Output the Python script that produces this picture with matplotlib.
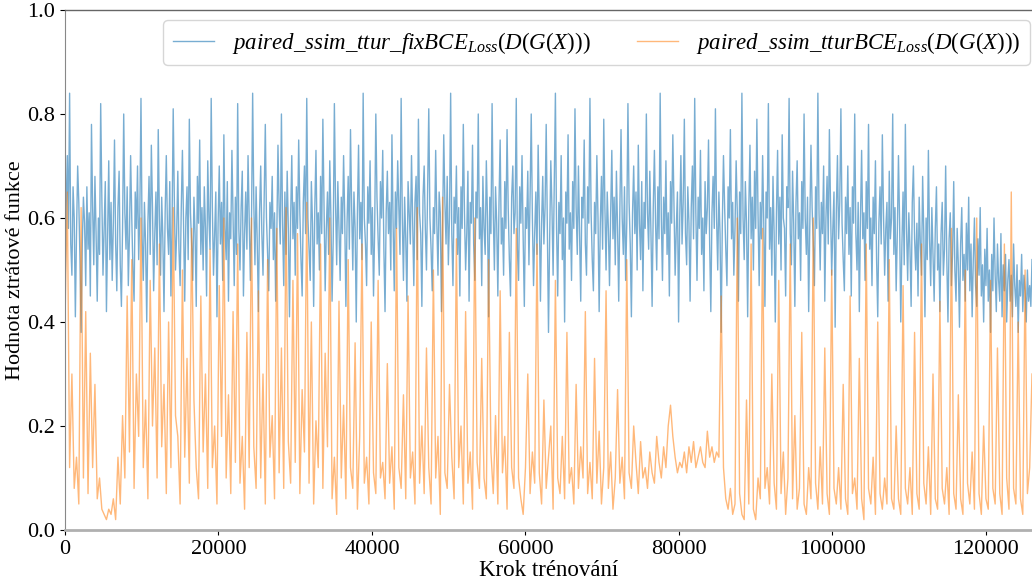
import numpy as np
import matplotlib
matplotlib.use("Agg")
import matplotlib.pyplot as plt

# -------------------- Data --------------------
fix_every = 150   # training steps between logged values, blue run
ttur_every = 300  # training steps between logged values, orange run

fix_loss = [
    0.45, 0.62, 0.72, 0.58, 0.84, 0.55, 0.49, 0.66, 0.60, 0.41, 0.57, 0.70, 0.63, 0.52, 0.38, 0.55, 0.64, 0.59, 0.47, 0.66,
    0.54, 0.61, 0.45, 0.78, 0.62, 0.51, 0.68, 0.57, 0.44, 0.60, 0.53, 0.82, 0.64, 0.49, 0.58, 0.67, 0.42, 0.56, 0.71, 0.52,
    0.63, 0.48, 0.59, 0.75, 0.55, 0.46, 0.62, 0.69, 0.51, 0.43, 0.58, 0.80, 0.61, 0.54, 0.66, 0.47, 0.57, 0.72, 0.60, 0.50,
    0.44, 0.65, 0.58, 0.70, 0.52, 0.61, 0.83, 0.56, 0.48, 0.63, 0.55, 0.40, 0.59, 0.68, 0.53, 0.74, 0.62, 0.46, 0.57, 0.65,
    0.51, 0.77, 0.60, 0.49, 0.64, 0.56, 0.42, 0.61, 0.72, 0.58, 0.53, 0.67, 0.45, 0.59, 0.81, 0.63, 0.50, 0.57, 0.69, 0.54,
    0.47, 0.62, 0.73, 0.58, 0.44, 0.60, 0.66, 0.52, 0.79, 0.61, 0.55, 0.48, 0.64, 0.57, 0.43, 0.68, 0.59, 0.75, 0.53, 0.62,
    0.50, 0.66, 0.58, 0.45, 0.71, 0.60, 0.54, 0.83, 0.62, 0.49, 0.57, 0.65, 0.41, 0.59, 0.70, 0.55, 0.63, 0.48, 0.76, 0.58,
    0.52, 0.67, 0.44, 0.61, 0.56, 0.73, 0.60, 0.47, 0.64, 0.53, 0.82, 0.58, 0.50, 0.62, 0.69, 0.45, 0.57, 0.65, 0.54, 0.72,
    0.60, 0.48, 0.59, 0.84, 0.63, 0.51, 0.66, 0.55, 0.42, 0.61, 0.70, 0.57, 0.49, 0.64, 0.78, 0.60, 0.53, 0.46, 0.63, 0.58,
    0.68, 0.52, 0.61, 0.44, 0.57, 0.74, 0.62, 0.55, 0.80, 0.59, 0.47, 0.65, 0.53, 0.69, 0.58, 0.41, 0.60, 0.72, 0.56, 0.63,
    0.49, 0.66, 0.58, 0.75, 0.61, 0.52, 0.45, 0.63, 0.70, 0.57, 0.83, 0.60, 0.54, 0.48, 0.67, 0.59, 0.43, 0.62, 0.73, 0.55,
    0.61, 0.50, 0.68, 0.57, 0.79, 0.62, 0.46, 0.58, 0.65, 0.53, 0.71, 0.60, 0.44, 0.56, 0.82, 0.63, 0.51, 0.67, 0.58, 0.48,
    0.64, 0.57, 0.72, 0.60, 0.43, 0.59, 0.68, 0.54, 0.77, 0.62, 0.50, 0.65, 0.58, 0.40, 0.61, 0.74, 0.56, 0.63, 0.52, 0.84,
    0.60, 0.55, 0.47, 0.66, 0.59, 0.71, 0.53, 0.62, 0.45, 0.58, 0.80, 0.64, 0.56, 0.49, 0.67, 0.60, 0.73, 0.54, 0.42, 0.61,
    0.69, 0.57, 0.63, 0.50, 0.76, 0.59, 0.46, 0.65, 0.58, 0.71, 0.62, 0.53, 0.83, 0.60, 0.48, 0.64, 0.56, 0.44, 0.67, 0.61,
    0.55, 0.72, 0.59, 0.47, 0.63, 0.68, 0.52, 0.79, 0.61, 0.57, 0.43, 0.64, 0.70, 0.58, 0.50, 0.66, 0.81, 0.60, 0.54, 0.46,
    0.62, 0.57, 0.73, 0.59, 0.49, 0.65, 0.61, 0.42, 0.58, 0.76, 0.63, 0.55, 0.68, 0.51, 0.60, 0.84, 0.57, 0.47, 0.64, 0.59,
    0.70, 0.53, 0.62, 0.45, 0.66, 0.58, 0.78, 0.61, 0.50, 0.57, 0.69, 0.44, 0.63, 0.59, 0.74, 0.55, 0.48, 0.65, 0.60, 0.80,
    0.56, 0.62, 0.47, 0.68, 0.58, 0.53, 0.71, 0.60, 0.41, 0.64, 0.57, 0.82, 0.61, 0.50, 0.66, 0.59, 0.45, 0.63, 0.75, 0.55,
    0.60, 0.49, 0.67, 0.58, 0.77, 0.62, 0.52, 0.45, 0.64, 0.70, 0.57, 0.61, 0.83, 0.54, 0.48, 0.66, 0.59, 0.72, 0.56, 0.43,
    0.62, 0.58, 0.69, 0.51, 0.64, 0.80, 0.60, 0.47, 0.57, 0.65, 0.53, 0.74, 0.61, 0.44, 0.59, 0.68, 0.55, 0.62, 0.78, 0.57,
    0.38, 0.56, 0.71, 0.62, 0.49, 0.66, 0.84, 0.58, 0.45, 0.63, 0.57, 0.72, 0.52, 0.60, 0.40, 0.65, 0.59, 0.76, 0.54, 0.61,
    0.48, 0.67, 0.58, 0.81, 0.62, 0.53, 0.70, 0.57, 0.44, 0.64, 0.60, 0.75, 0.55, 0.49, 0.66, 0.59, 0.83, 0.61, 0.52, 0.46,
    0.63, 0.57, 0.72, 0.60, 0.42, 0.59, 0.68, 0.54, 0.79, 0.62, 0.50, 0.65, 0.58, 0.47, 0.61, 0.73, 0.56, 0.64, 0.51, 0.69,
    0.58, 0.44, 0.62, 0.77, 0.60, 0.53, 0.66, 0.48, 0.59, 0.82, 0.63, 0.55, 0.41, 0.61, 0.70, 0.57, 0.65, 0.50, 0.74, 0.59,
    0.52, 0.67, 0.46, 0.63, 0.58, 0.80, 0.61, 0.54, 0.69, 0.57, 0.43, 0.62, 0.73, 0.59, 0.50, 0.66, 0.56, 0.84, 0.60, 0.48,
    0.64, 0.57, 0.71, 0.53, 0.61, 0.45, 0.67, 0.59, 0.76, 0.62, 0.49, 0.58, 0.65, 0.40, 0.60, 0.72, 0.55, 0.63, 0.79, 0.57,
    0.51, 0.66, 0.59, 0.44, 0.62, 0.70, 0.56, 0.83, 0.61, 0.48, 0.64, 0.58, 0.73, 0.53, 0.60, 0.46, 0.67, 0.57, 0.62, 0.75,
    0.55, 0.42, 0.61, 0.68, 0.58, 0.81, 0.60, 0.50, 0.65, 0.57, 0.38, 0.59, 0.72, 0.62, 0.54, 0.47, 0.66, 0.60, 0.77, 0.56,
    0.63, 0.49, 0.58, 0.71, 0.61, 0.44, 0.65, 0.57, 0.84, 0.60, 0.52, 0.67, 0.59, 0.41, 0.62, 0.74, 0.56, 0.64, 0.50, 0.69,
    0.58, 0.79, 0.61, 0.47, 0.63, 0.56, 0.72, 0.59, 0.43, 0.65, 0.60, 0.82, 0.54, 0.62, 0.49, 0.68, 0.57, 0.40, 0.61, 0.73,
    0.55, 0.64, 0.50, 0.76, 0.60, 0.58, 0.45, 0.66, 0.62, 0.83, 0.57, 0.51, 0.69, 0.59, 0.43, 0.63, 0.71, 0.56, 0.61, 0.48,
    0.67, 0.58, 0.80, 0.60, 0.53, 0.64, 0.42, 0.59, 0.74, 0.62, 0.55, 0.47, 0.66, 0.58, 0.84, 0.61, 0.50, 0.63, 0.57, 0.70,
    0.44, 0.60, 0.68, 0.55, 0.77, 0.62, 0.49, 0.58, 0.65, 0.39, 0.61, 0.72, 0.56, 0.63, 0.81, 0.59, 0.52, 0.46, 0.64, 0.57,
    0.70, 0.53, 0.62, 0.45, 0.66, 0.59, 0.80, 0.57, 0.50, 0.63, 0.42, 0.60, 0.73, 0.56, 0.61, 0.48, 0.67, 0.58, 0.78, 0.54,
    0.60, 0.47, 0.64, 0.57, 0.71, 0.52, 0.41, 0.59, 0.66, 0.55, 0.76, 0.61, 0.49, 0.58, 0.63, 0.44, 0.69, 0.56, 0.60, 0.80,
    0.53, 0.62, 0.46, 0.57, 0.72, 0.59, 0.40, 0.55, 0.65, 0.51, 0.78, 0.58, 0.48, 0.61, 0.54, 0.43, 0.63, 0.70, 0.56, 0.50,
    0.59, 0.45, 0.64, 0.55, 0.49, 0.68, 0.57, 0.41, 0.60, 0.52, 0.73, 0.56, 0.47, 0.62, 0.53, 0.44, 0.58, 0.66, 0.50, 0.55,
    0.42, 0.57, 0.63, 0.49, 0.54, 0.70, 0.52, 0.40, 0.56, 0.61, 0.47, 0.53, 0.67, 0.50, 0.44, 0.58, 0.51, 0.39, 0.55, 0.62,
    0.48, 0.53, 0.44, 0.59, 0.50, 0.64, 0.46, 0.55, 0.41, 0.52, 0.60, 0.47, 0.43, 0.56, 0.49, 0.62, 0.45, 0.51, 0.40, 0.54,
    0.47, 0.58, 0.44, 0.50, 0.38, 0.53, 0.46, 0.60, 0.49, 0.42, 0.55, 0.48, 0.44, 0.57, 0.41, 0.51, 0.46, 0.53, 0.40, 0.48,
    0.52, 0.44, 0.49, 0.41, 0.55, 0.47, 0.43, 0.51, 0.38, 0.48, 0.45, 0.53, 0.42, 0.49, 0.46, 0.40, 0.50, 0.44, 0.47, 0.43,
    0.52,
]

ttur_loss = [
    0.40, 0.65, 0.12, 0.30, 0.08, 0.14, 0.05, 0.62, 0.10, 0.42, 0.07, 0.34, 0.12, 0.28, 0.06, 0.10, 0.04, 0.03, 0.02, 0.04,
    0.03, 0.06, 0.02, 0.14, 0.05, 0.22, 0.10, 0.45, 0.15, 0.52, 0.08, 0.30, 0.18, 0.60, 0.12, 0.25, 0.06, 0.48, 0.20, 0.35,
    0.10, 0.55, 0.16, 0.28, 0.07, 0.40, 0.12, 0.62, 0.22, 0.18, 0.05, 0.50, 0.14, 0.33, 0.09, 0.58, 0.25, 0.12, 0.06, 0.45,
    0.15, 0.30, 0.08, 0.54, 0.12, 0.20, 0.05, 0.47, 0.18, 0.60, 0.10, 0.26, 0.07, 0.42, 0.13, 0.55, 0.09, 0.18, 0.04, 0.38,
    0.12, 0.60, 0.16, 0.08, 0.46, 0.10, 0.30, 0.05, 0.52, 0.14, 0.22, 0.06, 0.58, 0.11, 0.35, 0.08, 0.62, 0.17, 0.09, 0.48,
    0.13, 0.57, 0.07, 0.27, 0.15, 0.63, 0.09, 0.40, 0.05, 0.21, 0.12, 0.55, 0.08, 0.34, 0.16, 0.60, 0.06, 0.14, 0.03, 0.44,
    0.10, 0.24, 0.06, 0.52, 0.12, 0.08, 0.36, 0.04, 0.18, 0.55, 0.09, 0.14, 0.05, 0.40, 0.11, 0.07, 0.48, 0.10, 0.13, 0.06,
    0.32, 0.09, 0.16, 0.04, 0.58, 0.12, 0.08, 0.26, 0.06, 0.45, 0.10, 0.15, 0.05, 0.62, 0.09, 0.20, 0.07, 0.35, 0.12, 0.05,
    0.50, 0.10, 0.18, 0.03, 0.64, 0.11, 0.08, 0.28, 0.14, 0.06, 0.56, 0.12, 0.20, 0.05, 0.42, 0.09, 0.15, 0.04, 0.60, 0.13,
    0.08, 0.33, 0.10, 0.06, 0.52, 0.15, 0.07, 0.22, 0.05, 0.46, 0.11, 0.18, 0.04, 0.38, 0.12, 0.08, 0.58, 0.10, 0.06, 0.03,
    0.12, 0.30, 0.07, 0.15, 0.09, 0.55, 0.11, 0.05, 0.25, 0.08, 0.14, 0.20, 0.04, 0.48, 0.10, 0.07, 0.18, 0.06, 0.38, 0.09,
    0.12, 0.05, 0.28, 0.08, 0.16, 0.10, 0.42, 0.07, 0.13, 0.06, 0.33, 0.09, 0.19, 0.05, 0.12, 0.46, 0.08, 0.15, 0.04, 0.10,
    0.27, 0.09, 0.14, 0.06, 0.52, 0.11, 0.08, 0.20, 0.13, 0.07, 0.17, 0.10, 0.12, 0.08, 0.15, 0.11, 0.09, 0.18, 0.13, 0.10,
    0.16, 0.12, 0.20, 0.24, 0.18, 0.14, 0.11, 0.13, 0.12, 0.15, 0.11, 0.16, 0.13, 0.17, 0.12, 0.14, 0.16, 0.13, 0.12, 0.19,
    0.14, 0.16, 0.13, 0.15, 0.14, 0.45, 0.12, 0.06, 0.04, 0.08, 0.03, 0.05, 0.60, 0.07, 0.03, 0.02, 0.25, 0.05, 0.55, 0.04,
    0.02, 0.10, 0.06, 0.58, 0.08, 0.12, 0.05, 0.30, 0.09, 0.04, 0.48, 0.07, 0.15, 0.03, 0.10, 0.55, 0.06, 0.22, 0.04, 0.08,
    0.38, 0.05, 0.03, 0.12, 0.06, 0.60, 0.09, 0.04, 0.16, 0.05, 0.35, 0.07, 0.03, 0.50, 0.08, 0.05, 0.12, 0.04, 0.28, 0.06,
    0.03, 0.45, 0.07, 0.10, 0.04, 0.33, 0.06, 0.02, 0.55, 0.08, 0.05, 0.14, 0.03, 0.40, 0.07, 0.04, 0.10, 0.05, 0.52, 0.06,
    0.04, 0.20, 0.06, 0.03, 0.47, 0.08, 0.05, 0.12, 0.03, 0.38, 0.07, 0.04, 0.55, 0.09, 0.05, 0.16, 0.03, 0.30, 0.06, 0.04,
    0.44, 0.08, 0.05, 0.12, 0.03, 0.58, 0.07, 0.04, 0.26, 0.06, 0.03, 0.50, 0.09, 0.05, 0.15, 0.04, 0.60, 0.07, 0.03, 0.20,
    0.06, 0.04, 0.48, 0.08, 0.05, 0.35, 0.07, 0.03, 0.55, 0.10, 0.04, 0.65, 0.08, 0.05, 0.40, 0.06, 0.03, 0.50, 0.07, 0.12, 0.30,
]

labels = [
    r"$paired\_ssim\_ttur\_fix BCE_{Loss}(D(G(X)))$",
    r"$paired\_ssim\_ttur BCE_{Loss}(D(G(X)))$",
]

steps_fix = np.arange(len(fix_loss)) * fix_every
steps_ttur = np.arange(len(ttur_loss)) * ttur_every

# -------------------- Style --------------------
plt.rcParams["font.family"] = ["Liberation Serif", "DejaVu Serif"]
plt.rcParams["mathtext.fontset"] = "custom"
plt.rcParams["mathtext.rm"] = "Liberation Serif"
plt.rcParams["mathtext.it"] = "Liberation Serif:italic"

# -------------------- Plot --------------------
fig = plt.figure(figsize=(10.32, 5.81), dpi=100)
ax = fig.add_axes([65 / 1032, 51 / 581, 967 / 1032, 520 / 581])

ax.plot(steps_fix, fix_loss, color="tab:blue", lw=1.0, alpha=0.6, label=labels[0])
ax.plot(steps_ttur, ttur_loss, color="tab:orange", lw=1.0, alpha=0.55, label=labels[1])

ax.set_xlim(0, 126000)
ax.set_ylim(0, 1.0)
ax.set_xticks([0, 20000, 40000, 60000, 80000, 100000, 120000])
ax.set_yticks([0.0, 0.2, 0.4, 0.6, 0.8, 1.0])
ax.tick_params(labelsize=16)

ax.set_xlabel("Krok trénování", fontsize=16.5, labelpad=1)
ax.set_ylabel("Hodnota ztrátové funkce", fontsize=16, labelpad=2)

ax.spines["right"].set_visible(False)
ax.spines["top"].set_color("#666666")
ax.spines["top"].set_linewidth(1.0)
ax.spines["left"].set_color("#888888")
ax.spines["bottom"].set_color("#b0b0b0")
ax.spines["bottom"].set_linewidth(2.0)

ax.legend(loc="upper right", bbox_to_anchor=(0.998, 0.98), borderaxespad=0,
          ncol=2, fontsize=16.5, frameon=True, handlelength=1.8, columnspacing=2.0)

fig.savefig("out.png", dpi=100)
plt.close(fig)
